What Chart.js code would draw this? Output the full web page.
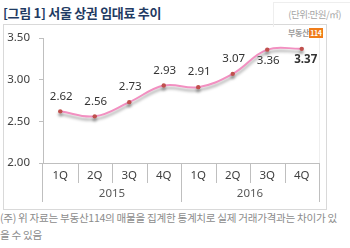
<!DOCTYPE html>
<html>
<head>
<meta charset="utf-8">
<script src="https://cdn.jsdelivr.net/npm/chart.js@4"></script>
<style>
  html, body { margin: 0; padding: 0; background: #fff; }
  #wrap { position: relative; width: 350px; height: 248px; overflow: hidden; font-family: "Noto Sans CJK KR", "Noto Sans", sans-serif; }
  #title { position: absolute; left: 3px; top: 3px; font-size: 13px; font-weight: bold; color: #1f3b63; letter-spacing: -0.3px; white-space: nowrap; }
  #unitbox { position: absolute; left: 273px; top: 2px; width: 77px; height: 24px; border-left: 1px solid #eeeeee; border-top: 1px solid #eeeeee; }
  #unit { position: absolute; right: 9px; top: 7px; font-size: 9.5px; color: #a6a6a6; white-space: nowrap; letter-spacing: -0.5px; }
  #frame { position: absolute; left: 3px; top: 24px; width: 324px; height: 186px; border: 1px solid #d9d9d9; box-sizing: border-box; }
  #logo { position: absolute; left: 288px; top: 27px; font-size: 8px; color: #9a9a9a; font-weight: bold; white-space: nowrap; letter-spacing: -0.3px; }
  #logo span { background: #f07d1a; color: #fff; padding: 0 1px; font-size: 7px; }
  #note { position: absolute; left: 0px; top: 209px; font-size: 10.6px; color: #8c8c8c; line-height: 17px; white-space: nowrap; letter-spacing: -0.3px; }
  canvas { position: absolute; left: 0; top: 0; }
</style>
</head>
<body>
<div id="wrap">
  <div id="frame"></div>
  <div id="unitbox"></div>
  <div id="title">[그림 1] 서울 상권 임대료 추이</div>
  <div id="unit">(단위:만원/㎡)</div>
  <div id="logo">부동산<span>114</span></div>
  <div id="note">(주) 위 자료는 부동산114의 매물을 집계한 통계치로 실제 거래가격과는 차이가 있<br>을 수 있음</div>
  <canvas id="chart" width="350" height="248"></canvas>
</div>
<script>
const quarters = ['1Q', '2Q', '3Q', '4Q', '1Q', '2Q', '3Q', '4Q'];
const years = ['2015', '2016'];
const rents = [2.62, 2.56, 2.73, 2.93, 2.91, 3.07, 3.36, 3.37];
const yTicks = [2.00, 2.50, 3.00, 3.50];

// labels above points, except last two which sit below
const labelBelow = [false, false, false, false, false, false, true, true];

const tablePlugin = {
  id: 'table',
  beforeDatasetsDraw(chart) {
    const ctx = chart.ctx;
    ctx.save();
    ctx.shadowColor = 'rgba(0,0,0,0.35)';
    ctx.shadowBlur = 3;
    ctx.shadowOffsetY = 3;
  },
  afterDatasetsDraw(chart) {
    chart.ctx.restore();
  },
  afterDraw(chart) {
    const ctx = chart.ctx;
    const area = chart.chartArea;
    const y = chart.scales.y;
    const x = chart.scales.x;
    const step = (area.right - area.left) / quarters.length;
    const base = y.getPixelForValue(2);
    ctx.save();
    // plot right faint border
    ctx.strokeStyle = '#eeeeee';
    ctx.lineWidth = 1;
    ctx.beginPath();
    ctx.moveTo(area.right + 0.5, area.top);
    ctx.lineTo(area.right + 0.5, base);
    ctx.stroke();
    // axes + table
    ctx.strokeStyle = '#bfbfbf';
    ctx.beginPath();
    ctx.moveTo(area.left, Math.round(base) + 0.5);
    ctx.lineTo(area.right, Math.round(base) + 0.5);
    ctx.moveTo(Math.round(area.left) - 0.5, base);
    ctx.lineTo(Math.round(area.left) - 0.5, base + 39);
    ctx.moveTo(Math.round(area.right) + 0.5, base);
    ctx.lineTo(Math.round(area.right) + 0.5, base + 39);
    for (let i = 1; i < quarters.length; i++) {
      const px = Math.round(area.left + step * i) + 0.5;
      const len = i === 4 ? 39 : 20;
      ctx.moveTo(px, base);
      ctx.lineTo(px, base + len);
    }
    ctx.stroke();
    ctx.fillStyle = '#404040';
    ctx.font = '11.5px "Noto Sans", sans-serif';
    ctx.textAlign = 'center';
    ctx.textBaseline = 'middle';
    quarters.forEach((q, i) => {
      ctx.fillText(q, x.getPixelForValue(i), base + 13);
    });
    ctx.fillStyle = '#595959';
    years.forEach((yr, i) => {
      ctx.fillText(yr, area.left + step * (4 * i + 2), base + 31);
    });
    // data labels
    ctx.fillStyle = '#333333';
    rents.forEach((v, i) => {
      const px = x.getPixelForValue(i) + 1;
      const py = y.getPixelForValue(v);
      ctx.font = (i === rents.length - 1 ? 'bold ' : '') + '11.5px "Noto Sans", sans-serif';
      ctx.fillText(v.toFixed(2), px + (i === rents.length - 1 ? 3 : 0), labelBelow[i] ? py + 11 : py - 15);
    });
    ctx.restore();
  }
};

new Chart(document.getElementById('chart'), {
  type: 'line',
  data: {
    labels: quarters,
    datasets: [{
      data: rents,
      borderColor: '#f290c1',
      borderWidth: 2,
      tension: 0.4,
      pointRadius: 2.2,
      pointBackgroundColor: '#c0504d',
      pointBorderColor: '#c0504d',
      pointBorderWidth: 0,
      fill: false
    }]
  },
  options: {
    responsive: false,
    animation: false,
    events: [],
    layout: { padding: { left: 0, right: 31, top: 38, bottom: 85 } },
    plugins: { legend: { display: false }, tooltip: { enabled: false } },
    scales: {
      x: {
        display: false,
        offset: true
      },
      y: {
        min: 2,
        max: 3.5,
        afterFit(scale) { scale.width = 43; },
        afterBuildTicks(scale) { scale.ticks = yTicks.map(v => ({ value: v })); },
        grid: { drawOnChartArea: false, tickLength: 4, color: '#bfbfbf' },
        border: { color: '#bfbfbf' },
        ticks: {
          padding: 9,
          color: '#404040',
          font: { size: 11.5, family: 'Noto Sans' },
          callback: v => v.toFixed(2)
        }
      }
    }
  },
  plugins: [tablePlugin]
});
</script>
</body>
</html>
